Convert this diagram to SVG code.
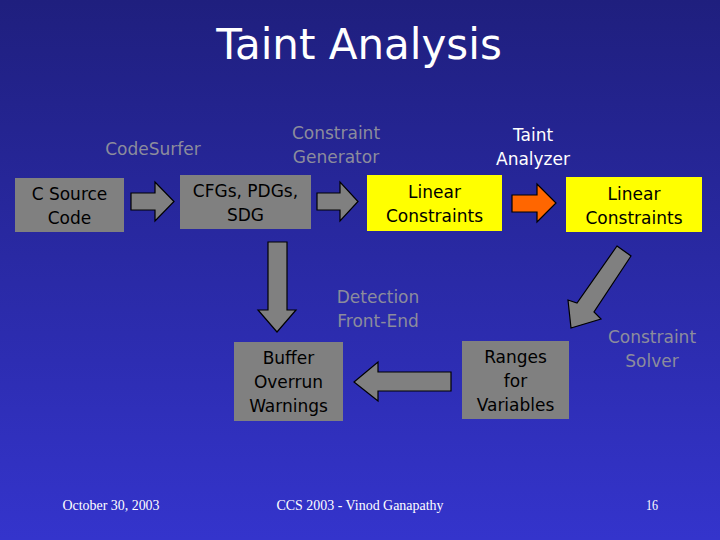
<svg xmlns="http://www.w3.org/2000/svg" width="720" height="540" viewBox="0 0 720 540">
<defs>
<linearGradient id="bg" x1="0" y1="0" x2="0" y2="1">
<stop offset="0" stop-color="#1f1f7e"/>
<stop offset="1" stop-color="#3434cc"/>
</linearGradient>
<style>
.box{fill:#808080}
.ybox{fill:#ffff00}
.t{font-family:"Comic Sans MS","DejaVu Sans",sans-serif;font-size:17px;text-anchor:middle;fill:#000}
.lbl{font-family:"Comic Sans MS","DejaVu Sans",sans-serif;font-size:17px;text-anchor:middle;fill:#8c8c9c}
.wl{font-family:"Comic Sans MS","DejaVu Sans",sans-serif;font-size:17px;text-anchor:middle;fill:#fff}
.arr{fill:#808080;stroke:#000;stroke-width:1.2}
.foot{font-family:"Liberation Serif",serif;font-size:15px;fill:#fff;text-anchor:middle}
</style>
</defs>
<rect width="720" height="540" fill="url(#bg)"/>
<text x="359" y="59" font-family="'Comic Sans MS','DejaVu Sans',sans-serif" font-size="42" fill="#fff" text-anchor="middle">Taint Analysis</text>

<g id="labels">
<text class="lbl" x="153" y="155">CodeSurfer</text>
<text class="lbl" x="336" y="139">Constraint</text>
<text class="lbl" x="336" y="163">Generator</text>
<text class="wl" x="533" y="141">Taint</text>
<text class="wl" x="533" y="165">Analyzer</text>
<text class="lbl" x="378" y="303">Detection</text>
<text class="lbl" x="378" y="327">Front-End</text>
<text class="lbl" x="652" y="343">Constraint</text>
<text class="lbl" x="652" y="367">Solver</text>
</g>

<g id="connectors">
<polygon class="arr" points="131,193 155,193 155,182 174,201.5 155,221 155,210 131,210"/>
<polygon class="arr" points="317,193 340,193 340,182 358,201.5 340,221 340,210 317,210"/>
<polygon points="512,195 537,195 537,184 556,203 537,222 537,212 512,212" fill="#ff6600" stroke="#000" stroke-width="1.2"/>
<polygon class="arr" points="268,242 287,242 287,310 296,310 277,332 258,310 268,310"/>
<polygon class="arr" points="451,372 378,372 378,362 354,382 378,401 378,391 451,391"/>
<polygon class="arr" points="617,246 631,256 594,312 601,319 571,328 568,300 577,303"/>
</g>

<g id="csource"><rect class="box" x="15" y="178" width="109" height="54"/>
<text class="t" x="69.5" y="200">C Source</text><text class="t" x="69.5" y="224">Code</text></g>
<g id="cfgs"><rect class="box" x="180" y="175" width="131" height="54"/>
<text class="t" x="245.5" y="197">CFGs, PDGs,</text><text class="t" x="245.5" y="221">SDG</text></g>
<g id="lc1"><rect class="ybox" x="367" y="175" width="135" height="56"/>
<text class="t" x="434.5" y="198">Linear</text><text class="t" x="434.5" y="222">Constraints</text></g>
<g id="lc2"><rect class="ybox" x="566" y="177" width="136" height="55"/>
<text class="t" x="634" y="200">Linear</text><text class="t" x="634" y="224">Constraints</text></g>
<g id="buffer"><rect class="box" x="234" y="342" width="109" height="79"/>
<text class="t" x="288.5" y="364">Buffer</text><text class="t" x="288.5" y="388">Overrun</text><text class="t" x="288.5" y="412">Warnings</text></g>
<g id="ranges"><rect class="box" x="462" y="341" width="107" height="78"/>
<text class="t" x="515.5" y="363">Ranges</text><text class="t" x="515.5" y="387">for</text><text class="t" x="515.5" y="411">Variables</text></g>

<g id="footer">
<text class="foot" x="111" y="510" textLength="97" lengthAdjust="spacingAndGlyphs">October 30, 2003</text>
<text class="foot" x="360" y="510" textLength="167" lengthAdjust="spacingAndGlyphs">CCS 2003 - Vinod Ganapathy</text>
<text class="foot" x="652" y="510" textLength="12" lengthAdjust="spacingAndGlyphs">16</text>
</g>
</svg>
